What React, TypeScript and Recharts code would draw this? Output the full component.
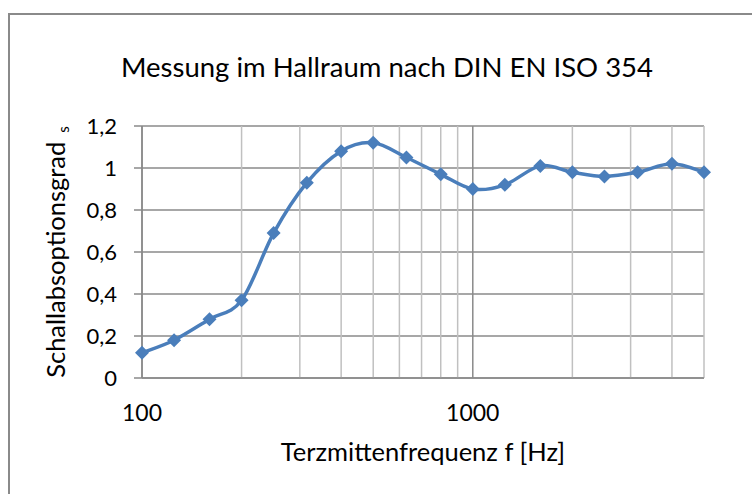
import React from 'react';
import { LineChart, Line, XAxis, YAxis, ReferenceLine, CartesianGrid } from 'recharts';

const frequencies = [100, 125, 160, 200, 250, 315, 400, 500, 630, 800, 1000, 1250, 1600, 2000, 2500, 3150, 4000, 5000];
const absorption = [0.12, 0.18, 0.28, 0.37, 0.69, 0.93, 1.08, 1.12, 1.05, 0.97, 0.9, 0.92, 1.01, 0.98, 0.96, 0.98, 1.02, 0.98];
const xTickLabels = [100, 1000];
const yTicks = [0, 0.2, 0.4, 0.6, 0.8, 1, 1.2];
const majorGrid = [100, 1000];
const minorGrid = [200, 300, 400, 500, 600, 700, 800, 900, 2000, 3000, 4000, 5000];

const title = 'Messung im Hallraum nach DIN EN ISO 354';
const xTitle = 'Terzmittenfrequenz f [Hz]';
const yTitle = 'Schallabsoptionsgrad';
const yTitleSub = 's';

const data = frequencies.map((f, i) => ({ f, a: absorption[i] }));

const FONT = 'Lato, "Open Sans", sans-serif';
const BLUE = '#4a7ebb';
const GRID_DARK = '#8a8a8a';
const GRID_LIGHT = '#c0c0c0';

function excelSmooth(context: any) {
  let pts: number[][] = [];
  return {
    areaStart() {},
    areaEnd() {},
    lineStart() { pts = []; },
    point(x: number, y: number) { pts.push([+x, +y]); },
    lineEnd() {
      if (!pts.length) return;
      context.moveTo(pts[0][0], pts[0][1]);
      for (let i = 0; i < pts.length - 1; i++) {
        const p0 = pts[i - 1] || pts[i];
        const p1 = pts[i];
        const p2 = pts[i + 1];
        const p3 = pts[i + 2] || pts[i + 1];
        context.bezierCurveTo(
          p1[0] + (p2[0] - p0[0]) / 6, p1[1] + (p2[1] - p0[1]) / 6,
          p2[0] - (p3[0] - p1[0]) / 6, p2[1] - (p3[1] - p1[1]) / 6,
          p2[0], p2[1]
        );
      }
    },
  };
}

const Diamond = (props: any) => {
  const { cx, cy, index } = props;
  const r = 7;
  return (
    <polygon
      key={`d-${index}`}
      points={`${cx},${cy - r} ${cx + r},${cy} ${cx},${cy + r} ${cx - r},${cy}`}
      fill={BLUE}
    />
  );
};

const YLabel = (props: any) => {
  const vb = props.viewBox || {};
  const cy = vb.y + vb.height / 2;
  const bx = vb.x - 27;
  return (
    <text transform={`translate(${bx},${cy}) rotate(-90)`} textAnchor="middle" fontSize={25.5} fill="#000" fontFamily={FONT}>
      {yTitle}
      <tspan dx={9} dy={3.5} fontSize={15}>{yTitleSub}</tspan>
    </text>
  );
};

const XLabel = (props: any) => {
  const vb = props.viewBox || {};
  return (
    <text x={vb.x + vb.width / 2} y={vb.y + 83} textAnchor="middle" fontSize={25.5} fill="#000" fontFamily={FONT}>
      {xTitle}
    </text>
  );
};

export default function App() {
  return (
    <div style={{ position: 'fixed', left: 0, top: 0, width: 752, height: 494, overflow: 'hidden', background: '#fff' }}>
      <div style={{ position: 'absolute', left: 8, top: 13, width: 900, height: 700, border: '2px solid #8a8a8a', boxSizing: 'border-box' }} />
      <svg width={752} height={100} style={{ position: 'absolute', left: 0, top: 0 }}>
        <text x={387} y={77} textAnchor="middle" fontFamily={FONT} fontSize={27.5} fill="#000">{title}</text>
      </svg>
      <div style={{ position: 'absolute', left: 0, top: 0 }}>
        <LineChart width={752} height={494} data={data} margin={{ top: 126, right: 48, bottom: 76, left: 92 }} style={{ fontFamily: FONT }}>
          <CartesianGrid vertical={false} stroke={GRID_DARK} strokeWidth={1.5} />
          {minorGrid.map((v) => (
            <ReferenceLine key={`mi-${v}`} x={v} stroke={GRID_LIGHT} strokeWidth={1.5} />
          ))}
          {majorGrid.map((v) => (
            <ReferenceLine key={`ma-${v}`} x={v} stroke={GRID_DARK} strokeWidth={1.5} />
          ))}
          <XAxis
            dataKey="f"
            type="number"
            scale="log"
            domain={[100, 5000]}
            ticks={xTickLabels}
            height={40}
            tickLine={false}
            tickSize={6}
            tickMargin={21}
            axisLine={{ stroke: GRID_DARK, strokeWidth: 1.5 }}
            tick={{ fill: '#000', fontSize: 23 }}
            label={<XLabel />}
          />
          <YAxis
            type="number"
            domain={[0, 1.2]}
            ticks={yTicks}
            width={50}
            tickSize={8}
            tickMargin={17}
            tickLine={{ stroke: GRID_DARK, strokeWidth: 1.5 }}
            axisLine={{ stroke: GRID_DARK, strokeWidth: 1.5 }}
            tick={{ fill: '#000', fontSize: 22 }}
            tickFormatter={(v: number) => String(v).replace('.', ',')}
            label={<YLabel />}
          />
          <Line
            dataKey="a"
            type={excelSmooth as any}
            stroke={BLUE}
            strokeWidth={3.5}
            dot={<Diamond />}
            activeDot={false}
            isAnimationActive={false}
          />
        </LineChart>
      </div>
    </div>
  );
}
